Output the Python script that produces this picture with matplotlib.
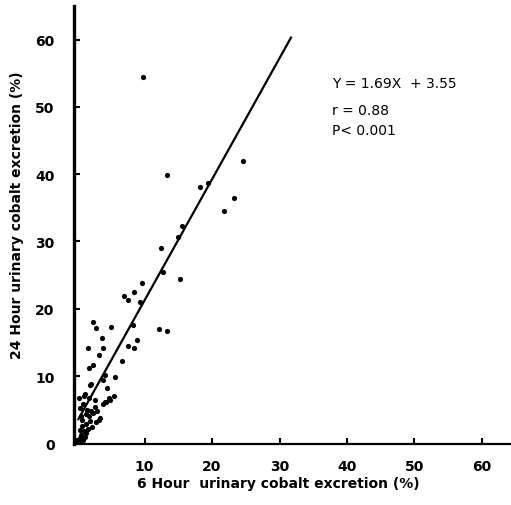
import numpy as np
import matplotlib
matplotlib.use("Agg")
import matplotlib.pyplot as plt

# 6 hour vs 24 hour urinary cobalt excretion (%)
six_hour = [
    9.7, 13.4, 18.2, 19.4, 24.6, 23.3, 21.8, 15.5, 14.9, 12.5,
    12.8, 15.3, 9.6, 6.9, 7.5, 8.5, 9.3, 8.3, 5.0, 12.2,
    13.3, 3.7, 8.9, 7.6, 8.4, 2.4, 2.8, 1.6, 3.9, 3.3,
    6.7, 2.3, 1.8, 5.6, 4.2, 1.9, 4.4, 1.1, 5.5, 4.8,
    4.1, 2.7, 3.9, 2.0, 1.2, 1.8, 4.9, 4.3, 3.9, 0.9,
    2.7, 3.4, 2.8, 3.2, 1.5, 2.0, 1.3, 1.8, 2.4, 2.9,
    1.9, 1.4, 0.8, 0.5, 1.0, 0.6, 1.3, 0.4, 0.9, 0.3,
    1.6, 0.7, 0.4, 0.3, 1.2, 2.2, 0.6,
]
twentyfour_hour = [
    54.4, 39.9, 38.1, 38.7, 41.9, 36.4, 34.6, 32.3, 30.6, 29.0,
    25.5, 24.4, 23.8, 21.9, 21.3, 22.5, 21.0, 17.6, 17.3, 17.0,
    16.7, 15.7, 15.4, 14.5, 14.2, 18.0, 17.2, 14.2, 14.2, 13.2,
    12.2, 11.6, 11.2, 9.9, 10.2, 8.7, 8.2, 7.1, 7.0, 6.7,
    6.2, 6.4, 9.4, 8.8, 7.3, 6.7, 6.4, 6.1, 5.8, 5.8,
    5.4, 3.8, 3.1, 3.5, 5.0, 4.8, 4.4, 4.1, 4.5, 4.8,
    3.3, 2.9, 2.6, 2.0, 1.8, 1.2, 1.5, 0.8, 0.5, 0.3,
    2.2, 3.5, 5.2, 6.8, 0.9, 2.4, 4.1,
]

# regression line as drawn in the figure (end points)
line_x = [0.2, 31.7]
line_y = [3.6, 60.3]

ticks = [0, 10, 20, 30, 40, 50, 60]
xtick_labels = ["", "10", "20", "30", "40", "50", "60"]
ytick_labels = ["0", "10", "20", "30", "40", "50", "60"]
stats = ["Y = 1.69X  + 3.55", "r = 0.88", "P< 0.001"]

fig = plt.figure(figsize=(5.11, 5.06), dpi=100)
ax = fig.add_axes([74 / 511, (506 - 445) / 506, (511 - 74) / 511, (445 - 7) / 506])

ax.scatter(six_hour, twentyfour_hour, s=14, color="black", zorder=3, linewidths=0)
ax.plot(line_x, line_y, color="black", lw=1.6)

ax.set_xlim(-0.45, 64.3)
ax.set_ylim(-0.1, 65)

for s in ["top", "right"]:
    ax.spines[s].set_visible(False)
ax.spines["left"].set_linewidth(2.4)
ax.spines["bottom"].set_linewidth(1.6)

font = dict(family="DejaVu Sans", weight="bold", size=10)
ax.set_xticks(ticks)
ax.set_xticklabels(xtick_labels, **font)
ax.set_yticks(ticks)
ax.set_yticklabels(ytick_labels, **font)
ax.tick_params(axis="x", direction="in", length=4, width=1.5, pad=11)
ax.tick_params(axis="y", direction="in", length=4, width=1.5, pad=14)

ax.set_xlabel("6 Hour  urinary cobalt excretion (%)", fontsize=10, fontweight="bold")
ax.xaxis.set_label_coords((278 - 74) / 437, -(477 - 445) / 438)
ax.set_ylabel("24 Hour urinary cobalt excretion (%)", fontsize=10, fontweight="bold")
ax.yaxis.set_label_coords(-(74 - 24) / 437, (445 - 215) / 438)

for i, (txt, yv) in enumerate(zip(stats, [53.5, 49.5, 46.5])):
    ax.text(37.8, yv, txt, fontsize=10, va="center")

fig.savefig("out.png", dpi=100)
